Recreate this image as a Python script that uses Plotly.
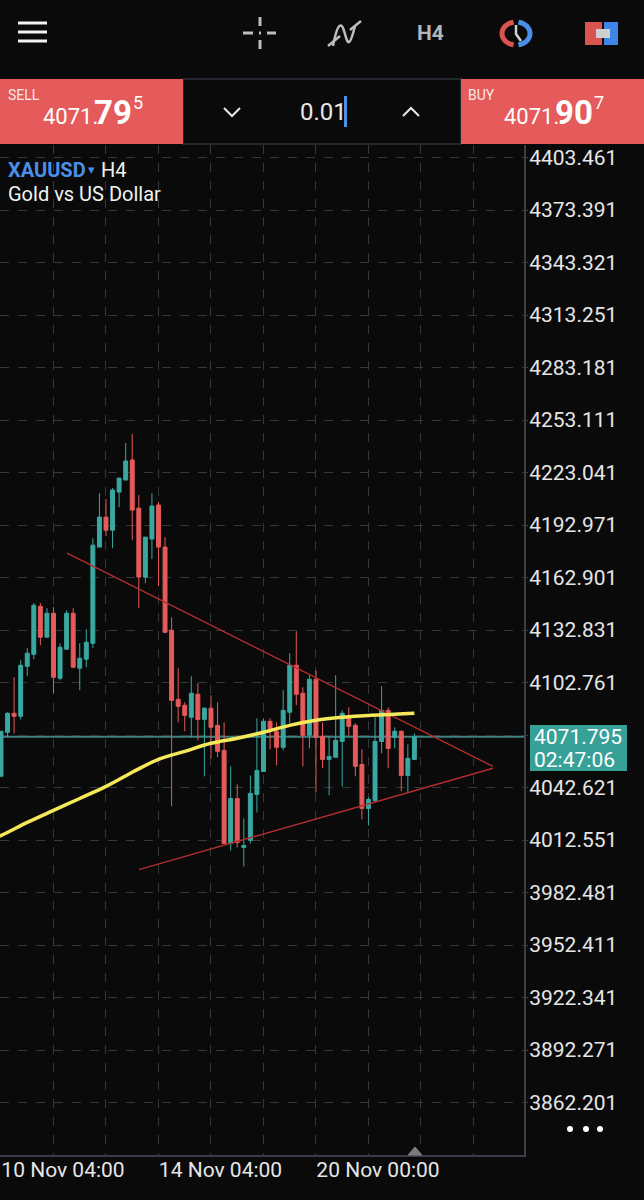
import math
import plotly.graph_objects as go

W, H = 644, 1200

# candle data (XAUUSD H4)
bars = list(range(64))
opens = [4049.1, 4074.3, 4085.2, 4083.5, 4112.1, 4119.0, 4146.5, 4128.8, 4142.5, 4105.3, 4121.9, 4142.5, 4111.0, 4116.2, 4125.3, 4180.4,
         4197.6, 4190.1, 4211.9, 4218.8, 4230.3, 4202.7, 4163.2, 4185.0, 4204.5, 4180.4, 4132.8, 4093.2, 4089.8, 4082.9, 4096.1, 4081.7,
         4088.1, 4078.3, 4064.0, 4010.6, 4036.4, 4008.4, 4012.4, 4038.7, 4051.9, 4080.6, 4074.9, 4065.7, 4085.8, 4112.7, 4096.7, 4072.6,
         4104.7, 4072.0, 4058.8, 4060.0, 4069.1, 4082.9, 4078.3, 4055.9, 4030.7, 4035.3, 4069.1, 4086.9, 4071.4, 4074.9, 4049.6, 4058.8]
highs = [4074.9, 4085.8, 4105.8, 4115.6, 4122.5, 4148.3, 4148.3, 4145.4, 4146.0, 4125.3, 4144.2, 4145.4, 4125.3, 4133.4, 4185.5, 4211.3,
         4207.9, 4214.2, 4219.9, 4240.0, 4245.2, 4210.2, 4186.1, 4211.3, 4206.2, 4186.1, 4140.2, 4111.0, 4091.5, 4106.4, 4102.4, 4088.6,
         4095.5, 4091.5, 4080.0, 4054.8, 4044.5, 4025.0, 4049.6, 4082.3, 4082.3, 4082.3, 4080.0, 4098.4, 4119.6, 4132.2, 4100.1, 4107.0,
         4109.8, 4080.0, 4072.0, 4107.0, 4086.9, 4088.6, 4079.5, 4064.5, 4037.0, 4082.9, 4100.7, 4088.6, 4077.2, 4075.4, 4067.4, 4073.7]
lows = [4049.1, 4071.4, 4073.7, 4081.7, 4106.4, 4116.2, 4124.2, 4128.8, 4096.7, 4104.1, 4121.9, 4111.0, 4098.4, 4111.6, 4122.5, 4180.4,
        4186.7, 4179.8, 4203.3, 4218.8, 4184.4, 4145.4, 4159.7, 4173.5, 4158.0, 4131.1, 4031.9, 4080.0, 4074.9, 4071.4, 4069.7, 4049.1,
        4059.4, 4060.0, 4010.6, 4006.6, 4008.4, 3997.5, 4010.6, 4028.4, 4051.9, 4064.5, 4055.4, 4064.0, 4079.5, 4089.8, 4054.8, 4065.1,
        4039.9, 4053.7, 4038.2, 4060.0, 4043.3, 4072.6, 4049.1, 4024.4, 4021.0, 4034.2, 4062.3, 4053.7, 4065.1, 4040.5, 4039.9, 4058.8]
closes = [4074.9, 4085.2, 4083.5, 4112.7, 4119.6, 4147.1, 4128.8, 4142.5, 4105.8, 4123.0, 4142.5, 4111.6, 4116.7, 4125.9, 4181.5, 4197.6,
          4190.1, 4213.1, 4219.9, 4229.7, 4201.6, 4163.2, 4186.1, 4203.9, 4180.4, 4131.6, 4092.6, 4089.2, 4084.0, 4096.7, 4081.7, 4088.1,
          4077.2, 4063.4, 4010.6, 4036.4, 4011.2, 4009.5, 4039.3, 4052.5, 4080.6, 4075.4, 4065.7, 4086.9, 4112.7, 4096.1, 4072.6, 4104.7,
          4071.4, 4058.8, 4060.5, 4069.7, 4085.2, 4077.7, 4054.8, 4030.7, 4035.9, 4069.1, 4086.9, 4065.1, 4074.9, 4049.6, 4059.4, 4071.8]

# moving average, sampled along the yellow line
ma_bars = [-1, 0, 4, 8, 12, 16, 20, 24, 28, 32, 36, 40, 44, 48, 52, 56, 60, 63]
ma_vals = [4014.1, 4015.2, 4022.7, 4029.6, 4036.4, 4043.3, 4051.4, 4058.8, 4063.4, 4068.0, 4070.9, 4074.3, 4078.3, 4081.2, 4082.9, 4084.0, 4084.6, 4085.2]

# hand drawn triangle
upper_bars = [10.06, 74.97]
upper_vals = [4176.9, 4054.8]
lower_bars = [21.03, 74.97]
lower_vals = [3995.7, 4053.7]

last_price = 4071.795
y_ticks = [4403.461, 4373.391, 4343.321, 4313.251, 4283.181, 4253.111, 4223.041, 4192.971,
           4162.901, 4132.831, 4102.761, 4072.691, 4042.621, 4012.551, 3982.481, 3952.411,
           3922.341, 3892.271, 3862.201]
y_labels = ["4403.461", "4373.391", "4343.321", "4313.251", "4283.181", "4253.111", "4223.041", "4192.971",
            "4162.901", "4132.831", "4102.761", "", "4042.621", "4012.551", "3982.481", "3952.411",
            "3922.341", "3892.271", "3862.201"]
x_ticks = [0, 8, 16, 24, 32, 40, 48, 56, 64, 72]
x_labels = ["10 Nov 04:00", "", "", "14 Nov 04:00", "", "", "20 Nov 00:00", "", "", ""]

BG = "#0a0a0a"
GRID = "#34373d"
AXIS = "#3a3f47"
RED = "#e55a5a"
TEAL = "#3aa8a0"
BLUE = "#4a8fe8"
FONT = "Roboto"


def px(x):
    return x / W


def py(y):
    return 1 - y / H


def path(points, close=False):
    s = "M" + " L".join(f"{px(x):.5f},{py(y):.5f}" for x, y in points)
    return s + (" Z" if close else "")


fig = go.Figure()

fig.add_trace(go.Candlestick(
    x=bars, open=opens, high=highs, low=lows, close=closes,
    increasing=dict(line=dict(color=TEAL, width=1), fillcolor=TEAL),
    decreasing=dict(line=dict(color=RED, width=1), fillcolor=RED),
    whiskerwidth=0,
))
fig.add_trace(go.Scatter(x=upper_bars, y=upper_vals, mode="lines", line=dict(color="#b32d2d", width=1.4)))
fig.add_trace(go.Scatter(x=lower_bars, y=lower_vals, mode="lines", line=dict(color="#b32d2d", width=1.4)))
fig.add_trace(go.Scatter(x=ma_bars, y=ma_vals, mode="lines", line=dict(color="#f5e85a", width=3.5, shape="spline")))

shapes = []
annotations = []


def rect(x0, y0, x1, y1, fill, line=None, lw=0):
    shapes.append(dict(type="rect", xref="paper", yref="paper", x0=px(x0), x1=px(x1), y0=py(y0), y1=py(y1),
                       fillcolor=fill, line=dict(color=line or fill, width=lw)))


def stroke(points, color, width):
    shapes.append(dict(type="path", xref="paper", yref="paper", path=path(points), line=dict(color=color, width=width)))


def text(x, y, s, size, color="#f2f2f2", anchor="left", family=FONT):
    annotations.append(dict(xref="paper", yref="paper", x=px(x), y=py(y), text=s, showarrow=False,
                            xanchor=anchor, yanchor="middle", borderpad=0,
                            font=dict(size=size, color=color, family=family)))


# last price line, behind the candles
shapes.append(dict(type="line", xref="x domain", yref="y", x0=0, x1=1, y0=last_price, y1=last_price,
                   layer="below", line=dict(color="#3f8081", width=2)))

# top toolbar
for y in (23, 32, 41):
    stroke([(18, y), (47, y)], "#f2f2f2", 3)
GREY = "#bdbdbd"
stroke([(243, 33), (253, 33)], GREY, 3)
stroke([(267, 33), (276, 33)], GREY, 3)
stroke([(260, 17), (260, 26)], GREY, 3)
stroke([(260, 40), (260, 49)], GREY, 3)
stroke([(259, 33), (261, 33)], GREY, 3)
stroke([(328, 46), (340, 36)], GREY, 2.5)
stroke([(350, 30), (361, 21)], GREY, 2.5)
shapes.append(dict(type="path", xref="paper", yref="paper", line=dict(color=GREY, width=2.5),
                   path=f"M{px(333)},{py(46)} C{px(338)},{py(20)} {px(342)},{py(22)} {px(345)},{py(34)} "
                        f"S{px(350)},{py(46)} {px(355)},{py(26)}"))
text(430, 33, "<b>H4</b>", 21, "#b5b5b5", "center")


def arc(cx, cy, rx, ry, a0, a1):
    return [(cx + rx * math.cos(math.radians(a)), cy + ry * math.sin(math.radians(a)))
            for a in range(a0, a1 + 1, 10)]


stroke(arc(516, 33.5, 14, 11.5, 100, 260), "#d9534f", 5)
stroke(arc(516, 33.5, 14, 11.5, -80, 80), BLUE, 5)
stroke([(516, 25), (516, 34), (521, 41)], "#d0d0d0", 2.5)
rect(585, 22, 602, 45, "#d9534f")
rect(604, 22, 618, 45, "#3d86e8")
rect(596, 29, 610, 38, "#cfcfcf", "#cfcfcf")

# order bar
rect(183, 79, 461, 144, BG, "#2c323b", 1.5)
rect(0, 79, 183, 144, RED)
rect(461, 79, 644, 144, RED)
text(7, 95, "SELL", 14, "#fbe9e9")
text(42, 116, "4071.", 22, "#ffffff")
text(93, 113, "<b>79</b>", 33, "#ffffff")
text(132, 103, "5", 18, "#ffffff")
text(467, 95, "BUY", 14, "#fbe9e9")
text(503, 116, "4071.", 22, "#ffffff")
text(554, 113, "<b>90</b>", 33, "#ffffff")
text(593, 103, "7", 18, "#ffffff")
stroke([(224, 108), (232, 116), (240, 108)], "#e8e8e8", 2)
stroke([(403, 116), (411, 108), (419, 116)], "#e8e8e8", 2)
text(299, 112, "0.01", 24, "#e8e8e8")
rect(344, 96, 347, 127, BLUE)

# symbol caption
text(7, 170, "<b>XAUUSD</b>", 20, BLUE)
text(87, 169, "▾", 13, BLUE)
text(100, 170, "H4", 20, "#f2f2f2")
text(7, 194, "Gold vs US Dollar", 20, "#f2f2f2")

# last price badge
rect(530, 725, 627, 771, "#37a097")
text(533, 737, "4071.795", 21, "#ffffff")
text(533, 760, "02:47:06", 21, "#ffffff")

# scale extras
shapes.append(dict(type="path", xref="paper", yref="paper", fillcolor="#7d7d7d", line=dict(color="#7d7d7d", width=1),
                   path=path([(408, 1155), (415, 1147), (422, 1155)], close=True)))
for x in (570, 586, 600):
    shapes.append(dict(type="circle", xref="paper", yref="paper", fillcolor="#ffffff", line=dict(width=0),
                       x0=px(x - 3), x1=px(x + 3), y0=py(1132), y1=py(1126)))

fig.update_layout(
    width=W, height=H, autosize=False,
    margin=dict(l=0, r=0, t=0, b=0),
    paper_bgcolor=BG, plot_bgcolor=BG,
    showlegend=False,
    boxgap=0.4, boxgroupgap=0,
    shapes=shapes, annotations=annotations,
    font=dict(family=FONT, color="#e6e6e6"),
    xaxis=dict(
        domain=[0, 524 / W], range=[-0.152, 79.7],
        rangeslider=dict(visible=False),
        tickmode="array", tickvals=x_ticks, ticktext=x_labels,
        ticks="", ticklabelshift=62, ticklabelstandoff=-5,
        tickfont=dict(size=21, color="#e6e6e6", family=FONT),
        showgrid=True, gridcolor=GRID, griddash="dash", gridwidth=1,
        showline=True, linecolor=AXIS, linewidth=2, zeroline=False,
    ),
    yaxis=dict(
        domain=[1 - 1155 / H, 1 - 145 / H], range=[3832.2, 4410.7],
        side="right", anchor="x",
        tickmode="array", tickvals=y_ticks, ticktext=y_labels,
        ticks="outside", ticklen=2, tickcolor=AXIS, ticklabelstandoff=-3,
        tickfont=dict(size=21, color="#e6e6e6", family=FONT),
        showgrid=True, gridcolor=GRID, griddash="dash", gridwidth=1,
        showline=True, linecolor=AXIS, linewidth=2, zeroline=False,
    ),
)

fig.write_html("out.html", config=dict(displayModeBar=False),
               post_script="document.body.style.margin='0';document.body.style.background='#0a0a0a';")
